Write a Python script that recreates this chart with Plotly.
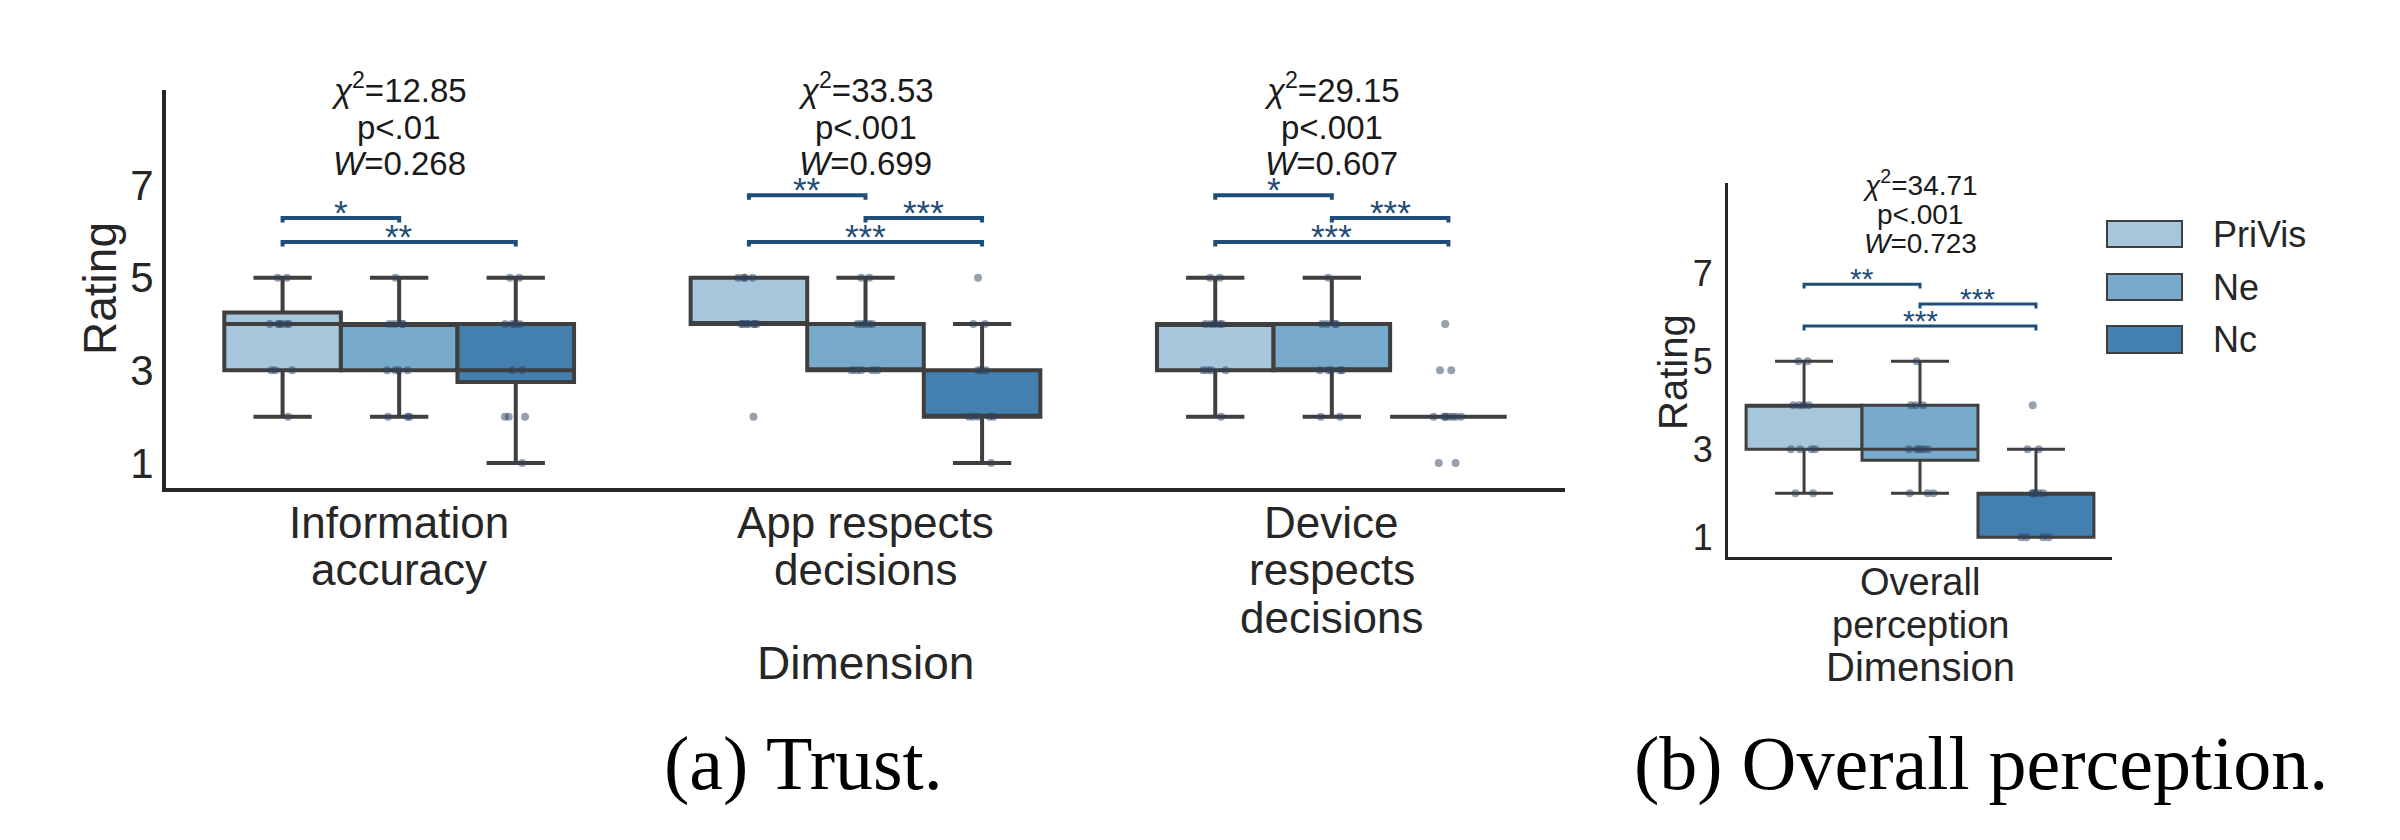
import plotly.graph_objects as go

CONDITIONS = ["PriVis", "Ne", "Nc"]
COLORS = ["#a6c6dc", "#77aacb", "#437faf"]

# (a) Trust
TRUST_DIMS = ["Information<br>accuracy", "App respects<br>decisions", "Device<br>respects<br>decisions"]

# box statistics per condition (rows) and dimension (columns)
TRUST_Q1 = [[3, 4, 3], [3, 3, 3], [2.75, 2, 2]]
TRUST_MED = [[4, 4, 4], [4, 3, 3], [3, 2, 2]]
TRUST_Q3 = [[4.25, 5, 4], [4, 4, 4], [4, 3, 2]]
TRUST_LO = [[2, 4, 2], [2, 3, 2], [1, 1, 2]]
TRUST_HI = [[5, 5, 5], [5, 5, 5], [5, 4, 2]]

# individual ratings (strip dots)
TRUST_RATINGS = [
    [[5, 5, 4, 4, 4, 4, 4, 4, 3, 3, 3, 2],
     [5, 5, 5, 5, 4, 4, 4, 4, 4, 4, 4, 2],
     [5, 5, 4, 4, 4, 4, 4, 3, 3, 3, 3, 2]],
    [[5, 4, 4, 4, 4, 3, 3, 3, 3, 2, 2, 2],
     [5, 5, 4, 4, 4, 4, 4, 3, 3, 3, 3, 3],
     [5, 4, 4, 4, 4, 3, 3, 3, 3, 3, 2, 2]],
    [[5, 5, 4, 4, 4, 4, 3, 3, 2, 2, 2, 1],
     [5, 4, 4, 3, 3, 3, 2, 2, 2, 2, 2, 1],
     [4, 3, 3, 2, 2, 2, 2, 2, 2, 2, 1, 1]],
]

TRUST_CHI = ["12.85", "33.53", "29.15"]
TRUST_P = ["p&lt;.01", "p&lt;.001", "p&lt;.001"]
TRUST_W = ["0.268", "0.699", "0.607"]

# (dimension, condition a, condition b, level, label)
TRUST_SIG = [
    (0, 0, 1, 1, "*"), (0, 0, 2, 0, "**"),
    (1, 0, 1, 2, "**"), (1, 1, 2, 1, "***"), (1, 0, 2, 0, "***"),
    (2, 0, 1, 2, "*"), (2, 1, 2, 1, "***"), (2, 0, 2, 0, "***"),
]

# (b) Overall perception
OVERALL_DIMS = ["Overall<br>perception"]
OVERALL_Q1 = [[3], [2.75], [1]]
OVERALL_MED = [[4], [3], [2]]
OVERALL_Q3 = [[4], [4], [2]]
OVERALL_LO = [[2], [2], [1]]
OVERALL_HI = [[5], [5], [3]]
OVERALL_RATINGS = [
    [[5, 5, 4, 4, 4, 4, 3, 3, 3, 3, 2, 2]],
    [[5, 4, 4, 4, 3, 3, 3, 3, 3, 2, 2, 2]],
    [[4, 3, 3, 2, 2, 2, 2, 2, 1, 1, 1, 1]],
]
OVERALL_CHI = ["34.71"]
OVERALL_P = ["p&lt;.001"]
OVERALL_W = ["0.723"]
OVERALL_SIG = [(0, 0, 1, 2, "**"), (0, 1, 2, 1, "***"), (0, 0, 2, 0, "***")]

FONT = "Liberation Sans, Arial, sans-serif"
SERIF = "Liberation Serif, Times New Roman, serif"
TXT = "#262626"
SIG_COLOR = "#1f4e79"
EDGE = "#3f3f3f"

OFFSETS = [-0.25, 0, 0.25]
BOX_W = 0.25
W, H = 2400, 840

panels = [
    dict(xa="x", ya="y", dims=TRUST_DIMS, q1=TRUST_Q1, med=TRUST_MED, q3=TRUST_Q3,
         lo=TRUST_LO, hi=TRUST_HI, pts=TRUST_RATINGS, chi=TRUST_CHI, p=TRUST_P, w=TRUST_W,
         sig=TRUST_SIG, xdom=[166 / W, 1565 / W], ydom=[1 - 488 / H, 1 - 90 / H],
         xr=[-0.5, 2.5], yr=[0.46, 9.05], levels=[5.77, 6.29, 6.78],
         stat_y=[9.1, 8.25, 7.47], fs=42, cat_fs=44, title_fs=46, stat_fs=33, sig_fs=35,
         lw=4, blw=4, cat_y0=522, cat_dy=47.5, title_pos=(865, 663), rating_pos=(100, 289),
         standoff=0),
    dict(xa="x2", ya="y2", dims=OVERALL_DIMS, q1=OVERALL_Q1, med=OVERALL_MED, q3=OVERALL_Q3,
         lo=OVERALL_LO, hi=OVERALL_HI, pts=OVERALL_RATINGS, chi=OVERALL_CHI, p=OVERALL_P,
         w=OVERALL_W, sig=OVERALL_SIG, xdom=[1728 / W, 2112 / W], ydom=[1 - 557 / H, 1 - 183 / H],
         xr=[-0.414, 0.414], yr=[0.55, 9.05], levels=[5.8, 6.3, 6.75],
         stat_y=[9.05, 8.34, 7.68], fs=36, cat_fs=38, title_fs=40, stat_fs=28, sig_fs=30,
         lw=3, blw=3, cat_y0=582, cat_dy=43, title_pos=(1920, 667), rating_pos=(1673, 372),
         standoff=5),
]


def to_paper(v, rng, dom):
    return dom[0] + (v - rng[0]) / (rng[1] - rng[0]) * (dom[1] - dom[0])


fig = go.Figure()
annotations = []

for pn in panels:
    n = len(pn["dims"])
    for ci, cond in enumerate(CONDITIONS):
        fig.add_trace(go.Box(
            x=[g + OFFSETS[ci] for g in range(n)],
            q1=pn["q1"][ci], median=pn["med"][ci], q3=pn["q3"][ci],
            lowerfence=pn["lo"][ci], upperfence=pn["hi"][ci],
            width=BOX_W, whiskerwidth=0.5, boxpoints=False,
            fillcolor=COLORS[ci], line=dict(color=EDGE, width=pn["lw"]),
            name=cond, showlegend=False, hoverinfo="skip",
            xaxis=pn["xa"], yaxis=pn["ya"],
        ))
    # strip dots
    for ci, cond in enumerate(CONDITIONS):
        for g in range(n):
            vals = pn["pts"][ci][g]
            fig.add_trace(go.Box(
                x=[g + OFFSETS[ci]] * len(vals), y=vals,
                boxpoints="all", jitter=0.3, pointpos=0, width=BOX_W,
                fillcolor="rgba(0,0,0,0)", line=dict(width=0, color="rgba(0,0,0,0)"),
                marker=dict(color="rgba(45,65,95,0.5)", size=8),
                showlegend=False, hoverinfo="skip",
                xaxis=pn["xa"], yaxis=pn["ya"],
            ))
    # significance brackets
    for g, a, b, lev, label in pn["sig"]:
        h = pn["levels"][lev]
        xa_ = g + OFFSETS[a]
        xb_ = g + OFFSETS[b]
        fig.add_trace(go.Scatter(
            x=[xa_, xa_, xb_, xb_], y=[h - 0.1, h, h, h - 0.1], mode="lines",
            line=dict(color=SIG_COLOR, width=pn["blw"]), showlegend=False, hoverinfo="skip",
            xaxis=pn["xa"], yaxis=pn["ya"],
        ))
        annotations.append(dict(
            x=(xa_ + xb_) / 2, y=h + 0.12, xref=pn["xa"], yref=pn["ya"], text=label,
            font=dict(family=FONT, size=pn["sig_fs"], color=SIG_COLOR),
        ))
    # Friedman statistics
    for g in range(n):
        lines = ["<i>χ</i><sup>2</sup>=" + pn["chi"][g], pn["p"][g], "<i>W</i>=" + pn["w"][g]]
        for text, sy in zip(lines, pn["stat_y"]):
            annotations.append(dict(
                x=g, y=to_paper(sy, pn["yr"], pn["ydom"]), xref=pn["xa"], yref="paper",
                text=text, font=dict(family=FONT, size=pn["stat_fs"], color="#1a1a1a"),
            ))
    # category labels, one line at a time
    for g, label in enumerate(pn["dims"]):
        for k, part in enumerate(label.split("<br>")):
            annotations.append(dict(
                x=g, y=1 - (pn["cat_y0"] + k * pn["cat_dy"]) / H, xref=pn["xa"], yref="paper",
                text=part, font=dict(family=FONT, size=pn["cat_fs"], color=TXT),
            ))
    tx, ty = pn["title_pos"]
    annotations.append(dict(x=tx / W, y=1 - ty / H, text="Dimension",
                            font=dict(family=FONT, size=pn["title_fs"], color=TXT)))
    rx, ry = pn["rating_pos"]
    annotations.append(dict(x=rx / W, y=1 - ry / H, text="Rating", textangle=-90,
                            font=dict(family=FONT, size=pn["title_fs"], color=TXT)))

axis_common = dict(showgrid=False, zeroline=False, showline=True, linecolor=TXT, ticks="")
p1, p2 = panels
fig.update_layout(
    xaxis=dict(domain=p1["xdom"], range=p1["xr"], showticklabels=False,
               linewidth=p1["lw"], anchor="y", **axis_common),
    yaxis=dict(domain=p1["ydom"], range=p1["yr"], tickvals=[1, 3, 5, 7], linewidth=p1["lw"],
               anchor="x", ticklabelstandoff=p1["standoff"],
               tickfont=dict(family=FONT, size=p1["fs"], color=TXT), **axis_common),
    xaxis2=dict(domain=p2["xdom"], range=p2["xr"], showticklabels=False,
                linewidth=p2["lw"], anchor="y2", **axis_common),
    yaxis2=dict(domain=p2["ydom"], range=p2["yr"], tickvals=[1, 3, 5, 7], linewidth=p2["lw"],
                anchor="x2", ticklabelstandoff=p2["standoff"],
                tickfont=dict(family=FONT, size=p2["fs"], color=TXT), **axis_common),
)

# sub-captions
annotations += [
    dict(x=803 / W, y=1 - 763 / H, text="(a) Trust.",
         font=dict(family=SERIF, size=76, color="black")),
    dict(x=1981 / W, y=1 - 763 / H, text="(b) Overall perception.",
         font=dict(family=SERIF, size=76, color="black")),
]

# legend
shapes = []
legend_rows = [(221, 247), (274, 300), (326, 353)]
for ci, cond in enumerate(CONDITIONS):
    top, bot = legend_rows[ci]
    shapes.append(dict(type="rect", xref="paper", yref="paper",
                       x0=2107 / W, x1=2182 / W, y0=1 - bot / H, y1=1 - top / H,
                       fillcolor=COLORS[ci], line=dict(color=EDGE, width=2)))
    annotations.append(dict(x=2211 / W, y=1 - (top + bot) / 2 / H, text=cond, xanchor="left",
                            font=dict(family=FONT, size=36, color=TXT)))

for a in annotations:
    a.setdefault("xref", "paper")
    a.setdefault("yref", "paper")
    a.setdefault("xanchor", "center")
    a.setdefault("yanchor", "middle")
    a.setdefault("showarrow", False)

fig.update_layout(
    width=W, height=H, margin=dict(l=0, r=0, t=0, b=0),
    paper_bgcolor="white", plot_bgcolor="white",
    showlegend=False, annotations=annotations, shapes=shapes,
)

fig.write_html("out.html", config={"displayModeBar": False},
               post_script="document.body.style.margin='0px';")
